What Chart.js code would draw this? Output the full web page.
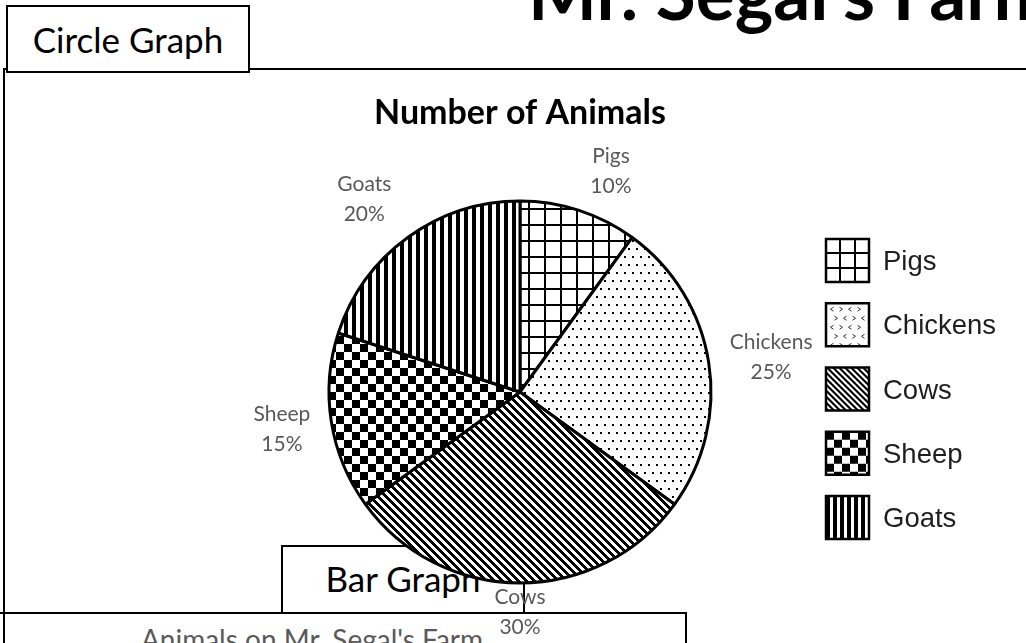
<!DOCTYPE html>
<html>
<head>
<meta charset="utf-8">
<title>Mr. Segal's Farm</title>
<script src="https://cdn.jsdelivr.net/npm/chart.js@4.4.1/dist/chart.umd.min.js"></script>
<style>
  html, body { margin: 0; padding: 0; background: #fff; overflow: hidden; }
  .page { position: relative; width: 1026px; height: 643px; overflow: hidden; background: #fff; }
  .page svg { position: absolute; left: 0; top: 0; }
  .chart-box { position: absolute; left: 0; top: 0; width: 1026px; height: 700px; }
</style>
</head>
<body>
<div class="page">
  <svg width="1026" height="643" xmlns="http://www.w3.org/2000/svg">
    <!-- worksheet frame -->
    <g stroke="#000" stroke-width="2" fill="none" shape-rendering="crispEdges">
      <path d="M4 643 V69 H1026"/>
      <path d="M0 613 H686 V643"/>
    </g>
    <!-- section tabs -->
    <rect x="7" y="6" width="242" height="66" fill="#fff" stroke="#000" stroke-width="2" shape-rendering="crispEdges"/>
    <rect x="282" y="546" width="242" height="67" fill="#fff" stroke="#000" stroke-width="2" shape-rendering="crispEdges"/>
    <text x="128" y="53" text-anchor="middle" font-family="Lato" font-size="35" fill="#000">Circle Graph</text>
    <text x="403" y="592" text-anchor="middle" font-family="Lato" font-size="35" fill="#000">Bar Graph</text>
    <text x="528" y="20" font-family="Lato" font-weight="700" font-size="73" fill="#000">Mr. Segal's Farm</text>
    <text x="312" y="650" text-anchor="middle" font-family="Lato" font-size="28" fill="#595959">Animals on Mr. Segal's Farm</text>
  </svg>
  <div class="chart-box"><canvas id="farmPie"></canvas></div>
</div>

<script>
// Animal counts as shares of the farm (percent)
const categories = ['Pigs', 'Chickens', 'Cows', 'Sheep', 'Goats'];
const sharePercent = [10, 25, 30, 15, 20];

// Small shifts applied to each outside label, in pixels [dx, dy]
const labelNudge = [[18, 2], [18, 1], [0, -17], [-5, -1], [-17, -3]];

const canvas = document.getElementById('farmPie');
const ctx = canvas.getContext('2d');

// Build a repeating monochrome tile
function tile(w, h, paint) {
  const c = document.createElement('canvas');
  c.width = w; c.height = h;
  const g = c.getContext('2d');
  g.fillStyle = '#fff';
  g.fillRect(0, 0, w, h);
  g.fillStyle = '#000';
  paint(g, w, h);
  return c;
}

function diagonalTile(period, thick) {
  return tile(period, period, (g) => {
    for (let y = 0; y < period; y++) {
      for (let k = 0; k < thick; k++) g.fillRect((y + k) % period, y, 1, 1);
    }
  });
}

// Slice fills: large grid, dots, downward diagonal, checkerboard, vertical bars
const sliceTiles = [
  tile(16, 16, (g) => { g.fillRect(0, 0, 16, 2); g.fillRect(0, 0, 2, 16); }),
  tile(8, 16, (g) => { g.fillRect(0, 0, 2, 2); g.fillRect(4, 8, 2, 2); }),
  diagonalTile(8, 4),
  tile(16, 16, (g) => { g.fillRect(0, 0, 8, 8); g.fillRect(8, 8, 8, 8); }),
  tile(8, 8, (g) => { g.fillRect(0, 0, 4, 8); })
];
const slicePatterns = sliceTiles.map((t) => ctx.createPattern(t, 'repeat'));

// Legend swatches use finer versions of the same fills
const swatchTiles = [
  null,
  null,
  diagonalTile(6, 3),
  tile(16, 16, (g) => { g.fillRect(0, 0, 8, 8); g.fillRect(8, 8, 8, 8); }),
  tile(7, 7, (g) => { g.fillRect(0, 0, 4, 7); })
];

function drawSwatch(c, i, x, y, s) {
  c.save();
  c.translate(x, y);
  c.beginPath();
  c.rect(0, 0, s, s);
  c.clip();
  c.fillStyle = '#fff';
  c.fillRect(0, 0, s, s);
  if (i === 0) {
    c.fillStyle = '#000';
    for (let k = 1; k < 3; k++) {
      const p = Math.round(k * s / 3) - 1;
      c.fillRect(p, 0, 2, s);
      c.fillRect(0, p, s, 2);
    }
  } else if (i === 1) {
    c.strokeStyle = '#333';
    c.lineWidth = 1;
    let row = 0;
    for (let yy = 6; yy < s; yy += 9, row++) {
      let col = 0;
      for (let xx = 6 + (row % 2) * 4; xx < s - 2; xx += 9, col++) {
        const dir = (col + row) % 2 === 0 ? 1 : -1;
        c.beginPath();
        c.moveTo(xx + 1.5 * dir, yy - 2);
        c.lineTo(xx - 1.5 * dir, yy);
        c.lineTo(xx + 1.5 * dir, yy + 2);
        c.stroke();
      }
    }
  } else {
    c.fillStyle = c.createPattern(swatchTiles[i], 'repeat');
    c.fillRect(0, 0, s, s);
  }
  c.restore();
  c.strokeStyle = '#000';
  c.lineWidth = 2.5;
  c.strokeRect(x, y, s, s);
}

// Category name and percent just outside each slice
const sliceLabels = {
  id: 'sliceLabels',
  afterDatasetsDraw(chart) {
    const c = chart.ctx;
    const meta = chart.getDatasetMeta(0);
    const values = chart.data.datasets[0].data;
    const total = values.reduce((a, b) => a + b, 0);
    c.save();
    c.font = '21px Lato';
    c.fillStyle = '#595959';
    c.textAlign = 'center';
    c.textBaseline = 'alphabetic';
    meta.data.forEach((arc, i) => {
      const p = arc.getProps(['x', 'y', 'startAngle', 'endAngle', 'outerRadius'], true);
      const mid = (p.startAngle + p.endAngle) / 2;
      const r = p.outerRadius + 45;
      const cx = p.x + r * Math.cos(mid) + labelNudge[i][0];
      const cy = p.y + r * Math.sin(mid) + labelNudge[i][1];
      const pct = Math.round(values[i] / total * 100) + '%';
      c.fillText(chart.data.labels[i], cx, cy - 7);
      c.fillText(pct, cx, cy + 23);
    });
    c.restore();
  }
};

// Legend column to the right of the pie
const legendLayout = { x: 826, firstY: 260.5, step: 64.25, box: 43, gap: 14 };
const swatchLegend = {
  id: 'swatchLegend',
  afterDraw(chart) {
    const c = chart.ctx;
    const L = legendLayout;
    c.save();
    chart.data.labels.forEach((name, i) => {
      const cy = L.firstY + i * L.step;
      drawSwatch(c, i, L.x, cy - L.box / 2, L.box);
      c.font = '27.5px "Liberation Sans"';
      c.fillStyle = '#1e1e1e';
      c.textAlign = 'left';
      c.textBaseline = 'alphabetic';
      c.fillText(name, L.x + L.box + L.gap, cy + 9.5);
    });
    c.restore();
  }
};

new Chart(canvas, {
  type: 'pie',
  data: {
    labels: categories,
    datasets: [{
      data: sharePercent,
      backgroundColor: slicePatterns,
      borderColor: '#000',
      borderWidth: 3,
      radius: 191,
      hoverOffset: 0
    }]
  },
  options: {
    responsive: true,
    maintainAspectRatio: false,
    animation: false,
    events: [],
    layout: { padding: { left: 214, right: 200, top: 92.6, bottom: 49.4 } },
    plugins: {
      legend: { display: false },
      tooltip: { enabled: false },
      title: {
        display: true,
        text: 'Number of Animals',
        color: '#000',
        font: { family: 'Lato', size: 34, weight: 'bold', lineHeight: 1.2 },
        padding: 0
      }
    }
  },
  plugins: [sliceLabels, swatchLegend]
});
</script>
</body>
</html>
